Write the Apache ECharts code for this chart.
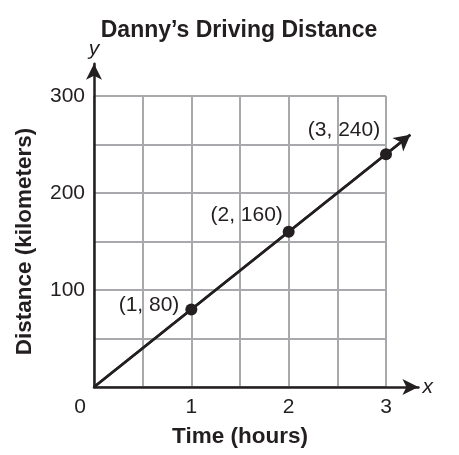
<!DOCTYPE html>
<html><head><meta charset="utf-8">
<script src="https://cdn.jsdelivr.net/npm/echarts@6/dist/echarts.min.js"></script>
<style>html,body{margin:0;padding:0;background:#fff}#c{width:459px;height:455px}</style>
</head><body><div id="c"></div>
<script>
const title = "Danny\u2019s Driving Distance";
const xName = "Time (hours)";
const yName = "Distance (kilometers)";
const hours = [1, 2, 3];
const distances = [80, 160, 240];
const lineStart = [0, 0];
const lineEnd = [3.25, 260];
const xTicks = [0, 1, 2, 3];
const yTicks = [100, 200, 300];

const ink = '#231f20';
const font = 'Liberation Sans, Arial, sans-serif';
const labelPos = [
  {position: 'left', distance: 6, offset: [0, -4]},
  {position: 'top', distance: 0, offset: [-42, 0]},
  {position: 'top', distance: 7, offset: [-42, 0]}
];

const chart = echarts.init(document.getElementById('c'));
chart.setOption({
  animation: false,
  title: {text: title, left: 234, top: 14, textAlign: 'center',
    textStyle: {fontFamily: font, fontSize: 23, fontWeight: 'bold', color: ink}},
  grid: [
    {left: 94, top: 96, width: 292, height: 291},
    {left: 94, top: 96 - 291 / 9, width: 292 * 10 / 9, height: 291 * 10 / 9}
  ],
  xAxis: [
    {gridIndex: 0, type: 'value', min: 0, max: 3, interval: 0.5,
     axisLine: {show: false}, axisTick: {show: false},
     splitLine: {show: true, lineStyle: {color: '#a7a9ac', width: 2}},
     axisLabel: {margin: 10, fontFamily: font, fontSize: 21, color: ink,
       formatter: v => xTicks.includes(v) ? (v === 0 ? '{o|0}' : String(v)) : '',
       rich: {o: {fontFamily: font, fontSize: 21, color: ink, padding: [0, 28, 0, 0]}}},
     name: xName, nameLocation: 'middle', nameGap: 38,
     nameTextStyle: {fontFamily: font, fontSize: 22.5, fontWeight: 'bold', color: ink}},
    {gridIndex: 1, type: 'value', min: 0, max: 10 / 3,
     axisLine: {show: true, symbol: ['none', 'arrow'], symbolSize: [12, 16], lineStyle: {color: ink, width: 2.5}},
     axisTick: {show: false}, axisLabel: {show: false}, splitLine: {show: false},
     name: 'x', nameLocation: 'end', nameGap: 4,
     nameTextStyle: {fontFamily: font, fontSize: 21, fontStyle: 'italic', color: ink}}
  ],
  yAxis: [
    {gridIndex: 0, type: 'value', min: 0, max: 300, interval: 50,
     axisLine: {show: false}, axisTick: {show: false},
     splitLine: {show: true, lineStyle: {color: '#a7a9ac', width: 2}},
     axisLabel: {margin: 9, fontFamily: font, fontSize: 21, color: ink,
       formatter: v => yTicks.includes(v) ? String(v) : ''},
     name: yName, nameLocation: 'middle', nameGap: 58, nameRotate: 90,
     nameTextStyle: {fontFamily: font, fontSize: 22.5, fontWeight: 'bold', color: ink}},
    {gridIndex: 1, type: 'value', min: 0, max: 1000 / 3,
     axisLine: {show: true, symbol: ['none', 'arrow'], symbolSize: [12, 16], lineStyle: {color: ink, width: 2.5}},
     axisTick: {show: false}, axisLabel: {show: false}, splitLine: {show: false},
     name: 'y', nameLocation: 'end', nameGap: 4,
     nameTextStyle: {fontFamily: font, fontSize: 21, fontStyle: 'italic', color: ink}}
  ],
  series: [
    {type: 'line', xAxisIndex: 1, yAxisIndex: 1, data: [lineStart, lineEnd],
     showSymbol: false, lineStyle: {color: ink, width: 2.5}, z: 3,
     markLine: {silent: true, symbol: ['none', 'arrow'], symbolSize: [13, 16],
       label: {show: false}, lineStyle: {color: ink, width: 2.5, type: 'solid'},
       data: [[{coord: lineStart}, {coord: lineEnd}]]}},
    {type: 'scatter', xAxisIndex: 1, yAxisIndex: 1, symbol: 'circle', symbolSize: 12,
     itemStyle: {color: ink, opacity: 1}, z: 4,
     data: hours.map((h, i) => ({value: [h, distances[i]],
       label: Object.assign({show: true, formatter: `(${h}, ${distances[i]})`,
         fontFamily: font, fontSize: 21, color: ink}, labelPos[i])}))}
  ]
});
</script></body></html>
